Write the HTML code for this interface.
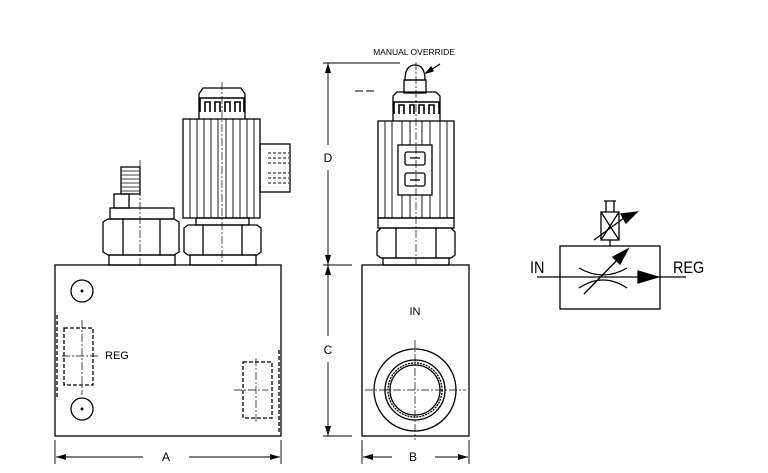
<!DOCTYPE html>
<html><head><style>body{margin:0;background:#fff}svg{display:block}</style></head><body>
<svg width="768" height="473" viewBox="0 0 768 473" xmlns="http://www.w3.org/2000/svg" font-family="Liberation Sans, sans-serif">
<defs>
<marker id="ar" markerWidth="10" markerHeight="6" refX="10" refY="3" orient="auto-start-reverse" markerUnits="userSpaceOnUse"><path d="M0,0L10,3L0,6z" fill="#000"/></marker>
</defs>
<g fill="none" stroke="#000" stroke-width="1.3">
<!-- left block -->
<rect x="55" y="265" width="226" height="171"/>
<circle cx="82" cy="291" r="11"/><circle cx="82" cy="409" r="11"/>
<circle cx="82" cy="291" r="0.8" fill="#000"/><circle cx="82" cy="409" r="0.8" fill="#000"/>
<rect x="64" y="328" width="29" height="57" stroke-dasharray="4,2"/>
<line x1="57" y1="315" x2="57" y2="398" stroke-dasharray="4,2"/>
<rect x="243" y="362" width="29" height="56" stroke-dasharray="4,2"/>
<line x1="279" y1="350" x2="279" y2="432" stroke-dasharray="4,2"/>
<g stroke-width="0.7" stroke-dasharray="8,2,2,2">
<line x1="82" y1="320" x2="82" y2="395"/><line x1="62" y1="356" x2="98" y2="356"/>
<line x1="234" y1="390" x2="268" y2="390"/><line x1="256" y1="358" x2="256" y2="422"/>
<line x1="140" y1="160" x2="140" y2="265"/><line x1="222" y1="82" x2="222" y2="265"/>
<line x1="416" y1="62" x2="416" y2="265"/>
<line x1="415" y1="340" x2="415" y2="440"/><line x1="365" y1="390" x2="466" y2="390"/>
</g>
<!-- pressure nut -->
<rect x="121" y="167" width="19" height="27"/>
<g stroke-width="0.8"><line x1="121" y1="171" x2="140" y2="171"/><line x1="121" y1="175" x2="140" y2="175"/><line x1="121" y1="179" x2="140" y2="179"/><line x1="121" y1="183" x2="140" y2="183"/><line x1="121" y1="187" x2="140" y2="187"/><line x1="121" y1="191" x2="140" y2="191"/></g>
<rect x="114" y="194" width="15" height="14"/>
<rect x="110" y="208" width="64" height="11"/>
<path d="M103,222 L108,219 L174,219 L179,222 L179,252 L174,255 L108,255 L103,252Z"/>
<line x1="123" y1="219" x2="123" y2="255"/><line x1="160" y1="219" x2="160" y2="255"/>
<rect x="109" y="255" width="66" height="10"/>
<!-- coil left -->
<path d="M199,119 L199,94 L203,88 L241,88 L245,94 L245,119"/>
<path d="M200,112 L200,98 L244,98 L244,112 M205,112 L205,102 L210,102 L210,112 M215,112 L215,102 L220,102 L220,112 M225,112 L225,102 L230,102 L230,112 M235,112 L235,102 L240,102 L240,112" stroke-width="1.6"/>
<rect x="183" y="119" width="77" height="99"/>
<g stroke-width="0.9">
<line x1="190" y1="119" x2="190" y2="218"/><line x1="197" y1="119" x2="197" y2="218"/><line x1="204" y1="119" x2="204" y2="218"/><line x1="211" y1="119" x2="211" y2="218"/><line x1="218" y1="119" x2="218" y2="218"/><line x1="226" y1="119" x2="226" y2="218"/><line x1="233" y1="119" x2="233" y2="218"/><line x1="240" y1="119" x2="240" y2="218"/><line x1="247" y1="119" x2="247" y2="218"/><line x1="254" y1="119" x2="254" y2="218"/>
</g>
<rect x="260" y="144" width="30" height="48"/>
<g stroke-dasharray="3,2" stroke-width="0.9"><line x1="268" y1="153" x2="289" y2="153"/><line x1="268" y1="158" x2="289" y2="158"/><line x1="268" y1="163" x2="289" y2="163"/><line x1="268" y1="173" x2="289" y2="173"/><line x1="268" y1="178" x2="289" y2="178"/><line x1="268" y1="183" x2="289" y2="183"/></g>
<rect x="196" y="218" width="53" height="7"/>
<path d="M184,228 L188,225 L257,225 L261,228 L261,252 L257,255 L188,255 L184,252Z"/>
<line x1="203" y1="225" x2="203" y2="255"/><line x1="242" y1="225" x2="242" y2="255"/>
<rect x="190" y="255" width="66" height="10"/>
<!-- side view -->
<rect x="362" y="265" width="107" height="171"/>
<circle cx="415" cy="390" r="41"/><circle cx="415" cy="390" r="30"/><circle cx="415" cy="390" r="27" stroke-dasharray="2,1"/><circle cx="415" cy="390" r="25"/>
<path d="M405,80 Q405,65 415,65 Q425,65 425,80Z"/>
<rect x="404" y="80" width="22" height="13"/>
<path d="M393,121 L393,96 L397,92 L436,92 L440,96 L440,121"/>
<path d="M394,114 L394,102 L439,102 L439,114 M399,114 L399,105 L404,105 L404,114 M410,114 L410,105 L414,105 L414,114 M419,114 L419,105 L424,105 L424,114 M429,114 L429,105 L434,105 L434,114" stroke-width="1.6"/>
<rect x="378" y="121" width="76" height="97"/>
<g stroke-width="0.9">
<line x1="385" y1="121" x2="385" y2="218"/><line x1="392" y1="121" x2="392" y2="218"/><line x1="440" y1="121" x2="440" y2="218"/><line x1="447" y1="121" x2="447" y2="218"/>
<line x1="402" y1="121" x2="402" y2="145"/><line x1="410" y1="121" x2="410" y2="145"/><line x1="422" y1="121" x2="422" y2="145"/><line x1="430" y1="121" x2="430" y2="145"/>
<line x1="402" y1="195" x2="402" y2="218"/><line x1="410" y1="195" x2="410" y2="218"/><line x1="422" y1="195" x2="422" y2="218"/><line x1="430" y1="195" x2="430" y2="218"/>
</g>
<rect x="398" y="145" width="34" height="50"/>
<rect x="405" y="152" width="20" height="13" rx="2"/><rect x="405" y="173" width="20" height="13" rx="2"/>
<line x1="410" y1="158" x2="420" y2="158"/><line x1="410" y1="180" x2="420" y2="180"/>
<rect x="378" y="218" width="76" height="10"/>
<path d="M377,232 L381,228 L451,228 L455,232 L455,255 L451,258 L381,258 L377,255Z"/>
<line x1="396" y1="228" x2="396" y2="258"/><line x1="436" y1="228" x2="436" y2="258"/>
<rect x="383" y="258" width="66" height="7"/>
<!-- manual override leader -->
<line x1="440" y1="64" x2="426" y2="73"/>
<path d="M426,73 L431,67 L433,71Z" fill="#000"/>
<!-- dimensions -->
<g stroke-width="0.9">
<line x1="323" y1="63" x2="400" y2="63"/><line x1="355" y1="91" x2="375" y2="91" stroke-dasharray="8,3"/>
<line x1="323" y1="265" x2="352" y2="265"/><line x1="323" y1="436" x2="352" y2="436"/>
<line x1="328" y1="63" x2="328" y2="145" marker-start="url(#ar)"/><line x1="328" y1="170" x2="328" y2="265" marker-end="url(#ar)"/>
<line x1="328" y1="265" x2="328" y2="336" marker-start="url(#ar)"/><line x1="328" y1="362" x2="328" y2="436" marker-end="url(#ar)"/>
<line x1="55" y1="440" x2="55" y2="464"/><line x1="281" y1="440" x2="281" y2="464"/>
<line x1="362" y1="440" x2="362" y2="464"/><line x1="469" y1="440" x2="469" y2="464"/>
<line x1="56" y1="457" x2="143" y2="457" marker-start="url(#ar)"/><line x1="189" y1="457" x2="280" y2="457" marker-end="url(#ar)"/>
<line x1="363" y1="457" x2="392" y2="457" marker-start="url(#ar)"/><line x1="435" y1="457" x2="468" y2="457" marker-end="url(#ar)"/>
</g>
<!-- symbol -->
<rect x="560" y="246" width="100" height="63"/>
<line x1="537" y1="277" x2="638" y2="277"/><line x1="655" y1="277" x2="686" y2="277"/>
<path d="M638,271 L658,277 L638,283Z" fill="#000"/>
<path d="M579,268 Q603,282 627,268"/><path d="M579,288 Q603,272 627,288"/>
<line x1="584" y1="294" x2="622" y2="255"/><path d="M628,249 L613,257 L620,264Z" fill="#000"/>
<line x1="610" y1="240" x2="610" y2="246"/>
<rect x="601" y="212" width="18" height="28"/>
<line x1="601" y1="212" x2="619" y2="240"/><line x1="619" y1="212" x2="601" y2="240"/>
<path d="M606,212 L606,201 M614,212 L614,201 M604,201 L616,201"/>
<line x1="594" y1="240" x2="628" y2="215"/><path d="M637,212 L621,214 L626,223Z" fill="#000"/>
</g>
<g fill="#000">
<text x="414" y="55" font-size="8.5" text-anchor="middle">MANUAL  OVERRIDE</text>
<text x="328" y="162" font-size="12" text-anchor="middle">D</text>
<text x="328" y="354" font-size="12" text-anchor="middle">C</text>
<text x="166" y="461" font-size="12" text-anchor="middle">A</text>
<text x="413" y="461" font-size="12" text-anchor="middle">B</text>
<text x="415" y="315" font-size="11" text-anchor="middle">IN</text>
<text x="105" y="359" font-size="11">REG</text>
<text x="530" y="273" font-size="17" transform="scale(0.85,1)" transform-origin="530 273">IN</text>
<text x="673" y="273" font-size="17" transform="scale(0.85,1)" transform-origin="673 273">REG</text>
</g>
</svg>
</body></html>
